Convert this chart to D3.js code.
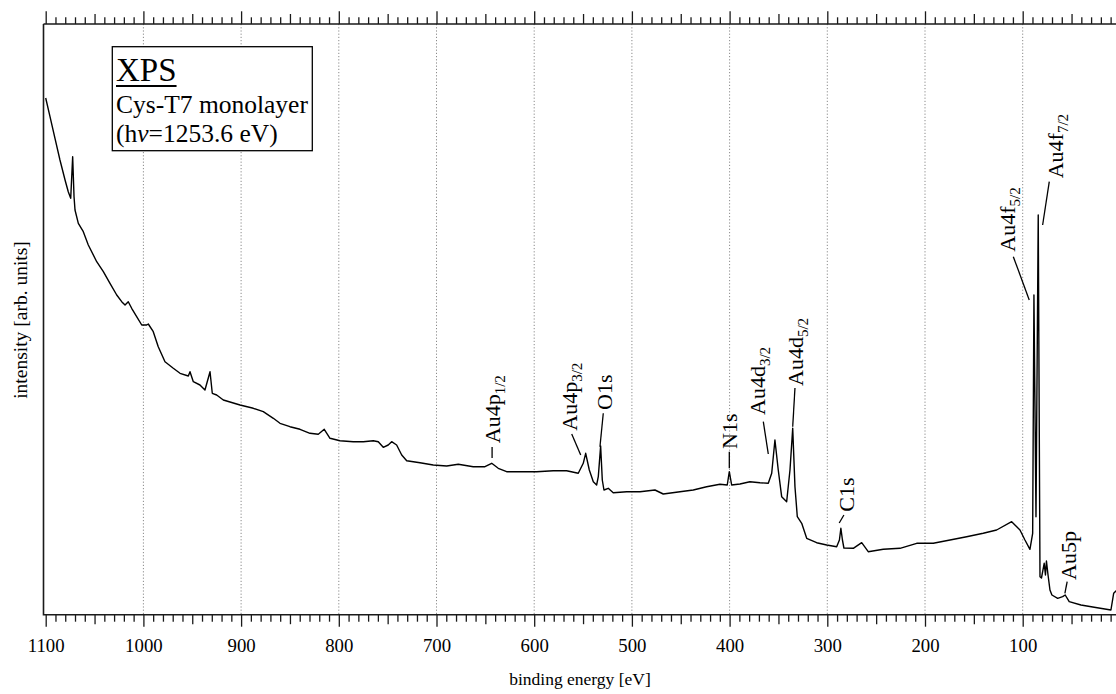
<!DOCTYPE html>
<html><head><meta charset="utf-8">
<script src="https://cdn.jsdelivr.net/npm/d3@7"></script>
<style>
html,body{margin:0;padding:0;background:#fff;}
svg{display:block;}
text{font-family:"Liberation Serif","Times New Roman",serif;fill:#000;}
</style></head><body>
<svg id="chart" width="1116" height="694"></svg>
<script>
// ---- data (binding energy in eV, intensity in arb. units) ----
const energy = [1100.0,1095.6,1090.5,1085.4,1080.2,1076.9,1074.4,1072.4,1071.0,1070.0,
1066.6,1061.5,1056.4,1047.8,1041.0,1034.2,1027.3,1022.2,1018.8,1015.5,
1012.0,1006.9,1001.7,996.6,995.0,989.9,984.8,977.9,969.4,962.5,
954.0,952.3,948.9,942.1,937.0,931.8,929.5,925.0,918.2,901.1,
887.5,877.3,867.0,860.2,850.0,839.7,829.5,821.0,814.9,809.0,
798.8,785.2,774.9,764.7,759.6,754.5,749.4,745.9,740.8,735.6,
730.5,716.9,703.3,689.6,677.7,662.4,650.4,643.5,636.8,628.2,
614.6,597.5,580.5,566.8,554.9,549.8,547.3,543.6,539.5,536.1,
534.4,532.0,530.3,528.6,524.2,519.1,505.3,491.7,476.4,467.9,
450.8,437.2,423.5,409.9,402.4,400.3,397.9,389.4,379.2,368.9,
360.4,356.9,353.6,350.2,346.7,341.6,338.2,335.4,333.1,330.7,
326.2,321.1,310.9,300.6,290.4,287.6,286.1,284.5,283.0,273.4,
264.8,258.1,242.7,225.6,208.5,191.5,174.4,157.4,140.4,126.7,
111.3,102.8,97.7,92.6,89.8,88.5,86.4,84.1,82.3,80.8,
78.0,76.7,75.7,74.2,72.1,70.1,64.2,59.1,56.5,52.4,
40.4,26.8,9.7,6.9,3.5];
const intensity = [516.7,498.0,476.4,454.7,434.7,423.0,416.4,458.0,418.0,404.7,
391.4,383.0,369.7,353.0,343.0,331.4,319.7,313.0,309.7,313.0,
306.4,298.0,289.7,289.7,290.7,283.0,268.0,253.0,246.4,241.4,
238.7,243.0,233.0,229.7,224.7,243.0,221.4,219.7,214.7,209.7,
206.4,203.0,196.4,191.4,188.0,185.4,181.4,180.4,185.4,176.4,
174.0,173.0,173.0,174.0,173.0,167.4,169.7,173.0,169.7,159.7,
154.0,152.0,149.7,148.7,150.4,148.0,148.0,151.4,146.4,143.0,
143.0,143.0,144.0,144.0,141.4,151.4,161.4,144.7,133.0,129.7,
138.0,168.7,134.7,124.7,126.4,122.0,123.0,123.0,124.7,120.7,
123.0,124.7,128.0,130.4,129.7,143.0,129.7,130.7,133.0,132.0,
131.4,141.4,174.7,144.7,118.0,113.0,144.7,186.4,128.0,98.0,
91.4,76.4,72.0,69.7,68.0,74.7,86.4,74.7,66.7,66.4,
72.0,63.0,65.4,66.4,71.4,71.4,74.7,78.0,81.4,84.7,
93.0,84.7,74.7,65.4,81.4,319.7,98.0,399.7,38.0,36.7,
51.4,39.7,53.7,40.7,24.7,19.7,16.4,18.0,19.7,13.0,
9.7,7.4,4.7,21.4,24.7];

const majorTicks = [1100,1000,900,800,700,600,500,400,300,200,100];
const tickLabels = ["1100","1000","900","800","700","600","500","400","300","200","100"];
const gridLines = [1000,900,800,700,600,500,400,300,200,100];
const peakNames = ["Au4p","Au4p","O1s","N1s","Au4d","Au4d","C1s","Au4f","Au4f","Au5p"];
const peakSubs  = ["1/2","3/2","","","3/2","5/2","","5/2","7/2",""];

// annotation layout (data coordinates): leader line start/end and label anchor
const labelLayout = [
  {e1:643.1,i1:156.7,e2:643.1,i2:167.7,te:642.4,ti:171.5},
  {e1:552.4,i1:159.7,e2:561.6,i2:180.7,te:563.4,ti:184.0},
  {e1:532.7,i1:168.0,e2:529.3,i2:201.4,te:527.6,ti:204.7},
  {e1:400.3,i1:146.4,e2:400.3,i2:163.0,te:400.3,ti:165.7},
  {e1:360.4,i1:160.7,e2:365.5,i2:193.0,te:370.9,ti:199.7},
  {e1:335.4,i1:188.0,e2:333.1,i2:226.7,te:332.1,ti:228.7},
  {e1:287.8,i1:91.7, e2:283.0,i2:99.7, te:279.9,ti:103.0},
  {e1:93.3, i1:314.7,e2:109.6,i2:358.0,te:115.1,ti:363.0},
  {e1:79.6, i1:389.7,e2:72.8, i2:433.0,te:66.6, ti:436.4},
  {e1:56.8, i1:21.4, e2:54.5, i2:33.0, te:52.9, ti:34.7}
];

// ---- chart ----
const svg = d3.select("#chart");
const plotTop = 24, plotBottom = 614.7, frameLeft = 43.5;
const x = d3.scaleLinear().domain([1100, 0]).range([45.7, 1120.4]);
const y = d3.scaleLinear().domain([0, 590.7]).range([plotBottom, plotTop]);

// grid
svg.append("g").selectAll("line").data(gridLines).join("line")
  .attr("x1", d => x(d)).attr("x2", d => x(d))
  .attr("y1", plotTop).attr("y2", plotBottom)
  .attr("stroke", "#8a8a8a").attr("stroke-width", 1)
  .attr("stroke-dasharray", "1.2,2");

// ticks
const allTen = d3.range(1100, -1, -10);
const midTicks = allTen.filter(d => d % 100 === 50);
const minorTicks = allTen.filter(d => d % 50 !== 0);

function styleAxis(g) {
  g.select(".domain").remove();
  g.selectAll(".tick line").attr("stroke", "#1a1a1a").attr("stroke-width", 1.3);
}
// bottom
const gb = svg.append("g").attr("transform", `translate(0,${plotBottom})`);
gb.append("g").call(d3.axisBottom(x).tickValues(minorTicks).tickSize(7).tickFormat("")).call(styleAxis);
gb.append("g").call(d3.axisBottom(x).tickValues(midTicks).tickSize(9.5).tickFormat("")).call(styleAxis);
gb.append("g").call(d3.axisBottom(x).tickValues(majorTicks).tickSize(12)
    .tickFormat((d, i) => tickLabels[i])).call(styleAxis)
  .call(g => g.selectAll("text").attr("y", 37.5).attr("dy", 0)
     .style("font-family", '"Liberation Serif","Times New Roman",serif')
     .style("font-size", "18.8px").attr("fill", "#000"));
// top
const gt = svg.append("g").attr("transform", `translate(0,${plotTop})`);
gt.append("g").call(d3.axisTop(x).tickValues(minorTicks).tickSize(6.7).tickFormat("")).call(styleAxis);
gt.append("g").call(d3.axisTop(x).tickValues(midTicks).tickSize(10).tickFormat("")).call(styleAxis);
gt.append("g").call(d3.axisTop(x).tickValues(majorTicks).tickSize(12.7).tickFormat("")).call(styleAxis);

// frame
svg.append("path")
  .attr("d", `M${frameLeft},${plotTop}H1120M${frameLeft},${plotTop}V${plotBottom}H1120`)
  .attr("fill", "none").attr("stroke", "#1a1a1a").attr("stroke-width", 1.6);

// spectrum
const pts = d3.zip(energy, intensity);
svg.append("path").datum(pts)
  .attr("d", d3.line().x(d => x(d[0])).y(d => y(d[1])))
  .attr("fill", "none").attr("stroke", "#000").attr("stroke-width", 1.4)
  .attr("stroke-linejoin", "round");

// peak labels
const lg = svg.append("g");
labelLayout.forEach((L, i) => {
  lg.append("line")
    .attr("x1", x(L.e1)).attr("y1", y(L.i1)).attr("x2", x(L.e2)).attr("y2", y(L.i2))
    .attr("stroke", "#000").attr("stroke-width", 1.3);
  const t = lg.append("text")
    .attr("transform", `translate(${x(L.te)},${y(L.ti)}) rotate(-90)`)
    .attr("dy", "0.33em").style("font-size", "22px");
  t.append("tspan").text(peakNames[i]);
  if (peakSubs[i]) t.append("tspan").style("font-size", "15px").attr("dy", "0.33em").text(peakSubs[i]);
});

// info box
const box = svg.append("g");
box.append("rect").attr("x", 112.3).attr("y", 46.7).attr("width", 200).attr("height", 104)
  .attr("fill", "#fff").attr("stroke", "#000").attr("stroke-width", 1.3);
const xps = box.append("text").attr("x", 116).attr("y", 81).style("font-size", "33px").text("XPS");
const xl = xps.node().getComputedTextLength();
box.append("line").attr("x1", 116).attr("x2", 116 + xl).attr("y1", 86).attr("y2", 86)
  .attr("stroke", "#000").attr("stroke-width", 1.8);
box.append("text").attr("x", 116).attr("y", 113).style("font-size", "25.5px").text("Cys-T7 monolayer");
const hv = box.append("text").attr("x", 116).attr("y", 142).style("font-size", "25.5px");
hv.append("tspan").text("(h");
hv.append("tspan").style("font-style", "italic").text("ν");
hv.append("tspan").text("=1253.6 eV)");

// axis titles
svg.append("text").attr("x", 580).attr("y", 685).attr("text-anchor", "middle")
  .style("font-size", "17.5px").text("binding energy [eV]");
svg.append("text").attr("transform", "translate(27,320) rotate(-90)").attr("text-anchor", "middle")
  .style("font-size", "19.5px").text("intensity [arb. units]");
</script>
</body></html>
